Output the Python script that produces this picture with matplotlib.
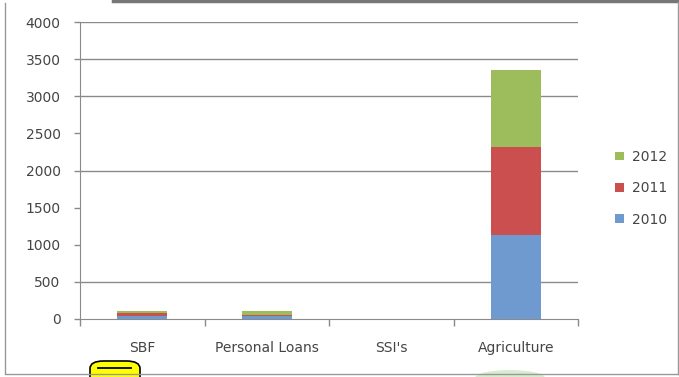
import matplotlib.pyplot as plt
from matplotlib.patches import FancyBboxPatch, Ellipse
import numpy as np

# loan amounts by sector and year
sectors = ["SBF", "Personal Loans", "SSI's", "Agriculture"]
y2010 = [35, 40, 0, 1130]
y2011 = [40, 20, 0, 1185]
y2012 = [30, 45, 0, 1040]

yticks = [0, 500, 1000, 1500, 2000, 2500, 3000, 3500, 4000]
grid_at = [500, 2000, 3000, 3500, 4000]

c2010 = "#6f9ad0"
c2011 = "#cc4f4f"
c2012 = "#9dbd5c"
txt = "#454545"

plt.rcParams['font.family'] = ['DejaVu Sans']

fig = plt.figure(figsize=(6.79, 3.77), dpi=100)
ax = fig.add_axes([80/679, 1-319/377, 498/679, 297/377])

x = np.arange(len(sectors))
b1 = np.array(y2010)
b2 = b1 + np.array(y2011)
ax.bar(x, y2010, 0.4, color=c2010, label="2010", zorder=3)
ax.bar(x, y2011, 0.4, bottom=b1, color=c2011, label="2011", zorder=3)
ax.bar(x, y2012, 0.4, bottom=b2, color=c2012, label="2012", zorder=3)

for g in grid_at:
    ax.axhline(g, color="#8a8a8a", lw=1.0, zorder=1)

ax.set_xlim(-0.5, len(sectors) - 0.5)
ax.set_ylim(0, 4000)
ax.set_yticks(yticks)
ax.set_yticklabels([str(v) for v in yticks], color=txt, fontsize=10)
ax.tick_params(axis='y', length=4, width=1, color="#8a8a8a", pad=10)

ax.set_xticks(x)
ax.set_xticklabels(sectors, color=txt, fontsize=10)
ax.set_xticks(np.arange(len(sectors) + 1) - 0.5, minor=True)
ax.tick_params(axis='x', which='major', length=0, pad=16)
ax.tick_params(axis='x', which='minor', length=5, width=1, color="#8a8a8a")

for s in ["top", "right"]:
    ax.spines[s].set_visible(False)
for s in ["left", "bottom"]:
    ax.spines[s].set_color("#8a8a8a")

h, l = ax.get_legend_handles_labels()
leg = ax.legend(h[::-1], l[::-1], loc="center left", bbox_to_anchor=(1.05, 0.44),
                frameon=False, fontsize=10, handlelength=0.6, handleheight=0.6,
                handletextpad=0.6, labelspacing=1.25)
for t in leg.get_texts():
    t.set_color(txt)

# page frame
fig.add_artist(plt.Line2D([113/679, 1], [1-1/377, 1-1/377], color="#777777", lw=2.5))
fig.add_artist(plt.Line2D([5/679, 5/679], [1-3/377, 1-373/377], color="#999999", lw=1))
fig.add_artist(plt.Line2D([5/679, 1], [1-374/377, 1-374/377], color="#999999", lw=1))
fig.add_artist(plt.Line2D([678/679, 678/679], [1-2/377, 1-374/377], color="#999999", lw=1))

# yellow marker at the bottom
fig.add_artist(FancyBboxPatch((90/679, -10/377), 50/679, 16/377 + 10/377,
                              boxstyle="round,pad=0,rounding_size=0.02",
                              transform=fig.transFigure, facecolor="#ffff00",
                              edgecolor="black", lw=1.2, clip_on=False))
fig.add_artist(plt.Line2D([98/679, 131/679], [1-368/377, 1-368/377], color="black", lw=1.3))
fig.add_artist(Ellipse((510/679, 1-378/377), 70/679, 16/377, transform=fig.transFigure,
                       facecolor="#cfe8c4", edgecolor="none", alpha=0.8))

fig.savefig("out.png", dpi=100)
